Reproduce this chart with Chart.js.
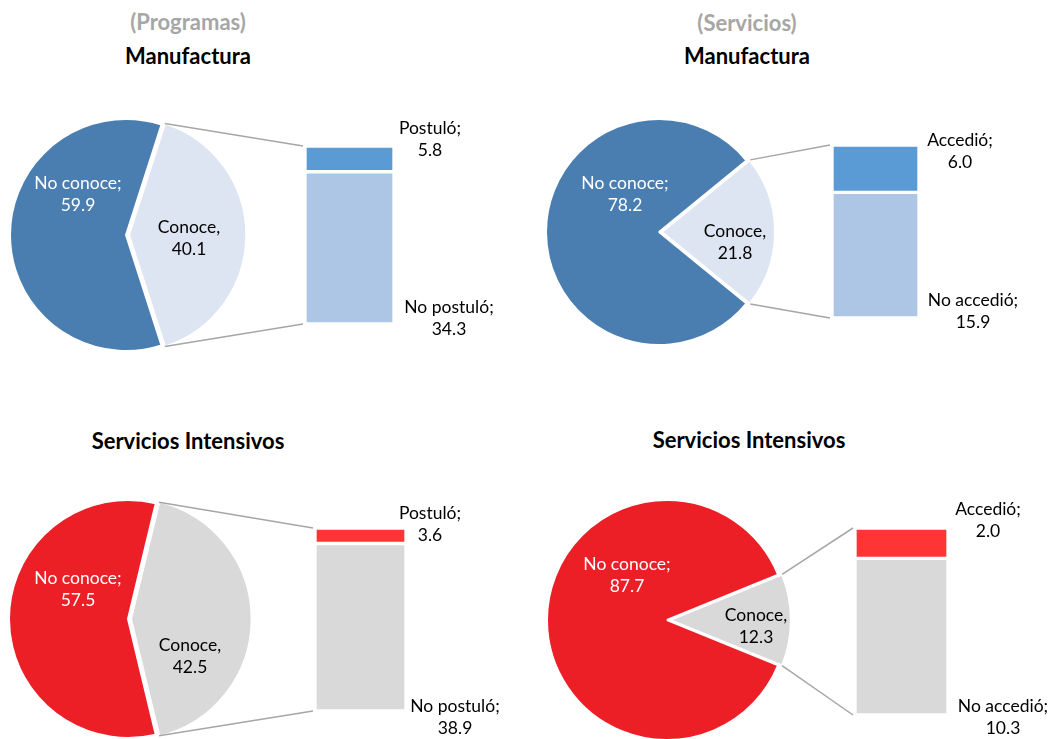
<!DOCTYPE html>
<html>
<head>
<meta charset="utf-8">
<script src="https://cdn.jsdelivr.net/npm/chart.js@4.4.1/dist/chart.umd.min.js"></script>
<style>
  body { margin: 0; background: #fff; width: 1052px; height: 739px; overflow: hidden; position: relative; font-family: Lato, sans-serif; }
  canvas { position: absolute; left: 0; top: 0; }
  .title { position: absolute; width: 320px; margin-left: -160px; text-align: center; font-weight: bold; font-size: 22px; line-height: 26px; color: #000; }
  .title.sub { color: #a6a6a6; }
</style>
</head>
<body>
<div class="title sub" style="left:188px;top:9px">(Programas)</div>
<div class="title" style="left:188px;top:43px">Manufactura</div>
<div class="title sub" style="left:747px;top:10px">(Servicios)</div>
<div class="title" style="left:747px;top:43px">Manufactura</div>
<div class="title" style="left:188px;top:428px">Servicios Intensivos</div>
<div class="title" style="left:749px;top:427px">Servicios Intensivos</div>

<script>
// data
const pieCategories = ['No conoce', 'Conoce'];
const pieSeparators = [';', ','];
const progCategories = ['Postuló', 'No postuló'];
const servCategories = ['Accedió', 'No accedió'];

const progManuf = [59.9, 40.1];
const servManuf = [78.2, 21.8];
const progServInt = [57.5, 42.5];
const servServInt = [87.7, 12.3];

const progManufSplit = [5.8, 34.3];
const servManufSplit = [6.0, 15.9];
const progServIntSplit = [3.6, 38.9];
const servServIntSplit = [2.0, 10.3];

const W = 1052, H = 739;
const FONT = '17.5px Lato, sans-serif';

const blueSet = { pie: ['#4a7eb0', '#dde5f2'], bar: ['#5b9bd5', '#aec6e5'] };
const redSet = { pie: ['#ec1f26', '#d9d9d9'], bar: ['#ff3535', '#d9d9d9'] };

// layout of each panel (pie centre/radius, bar box, label offsets)
const panels = [
  { values: progManuf, split: progManufSplit, cats: progCategories, colors: blueSet,
    cx: 126, cy: 235, r: 116, bar: [307, 148, 392, 322],
    pieLbl: [[-48, -41], [63, 3]], barLbl: [[38, -9], [57, -4]] },
  { values: servManuf, split: servManufSplit, cats: servCategories, colors: blueSet,
    cx: 659, cy: 232, r: 113, bar: [834, 147, 917, 316],
    pieLbl: [[-34, -38], [76, 10]], barLbl: [[43, 4], [56, -5]] },
  { values: progServInt, split: progServIntSplit, cats: progCategories, colors: redSet,
    cx: 128, cy: 619, r: 119, bar: [317, 530, 404, 709],
    pieLbl: [[-50, -30], [62, 37]], barLbl: [[26, -6], [51, 8]] },
  { values: servServInt, split: servServIntSplit, cats: servCategories, colors: redSet,
    cx: 667, cy: 620, r: 120, bar: [857, 530, 946, 713],
    pieLbl: [[-40, -45], [89, 6]], barLbl: [[42, -10], [57, 4]] }
];

function twoLines(ctx, x, y, a, b) {
  ctx.fillText(a, x, y - 11);
  ctx.fillText(b, x, y + 11);
}

function newCanvas() {
  const c = document.createElement('canvas');
  c.width = W; c.height = H;
  document.body.appendChild(c);
  return c;
}

panels.forEach(p => {
  // pie: label plugin
  const pieText = {
    id: 'pieText',
    afterDatasetsDraw(chart) {
      const { ctx } = chart;
      const arcs = chart.getDatasetMeta(0).data;
      ctx.save();
      ctx.font = FONT;
      ctx.textAlign = 'center';
      ctx.textBaseline = 'middle';
      arcs.forEach((arc, i) => {
        ctx.fillStyle = i === 0 ? '#ffffff' : '#000000';
        twoLines(ctx, arc.x + p.pieLbl[i][0], arc.y + p.pieLbl[i][1],
          pieCategories[i] + pieSeparators[i], p.values[i].toFixed(1));
      });
      ctx.restore();
    }
  };

  const pie = new Chart(newCanvas(), {
    type: 'pie',
    data: {
      labels: pieCategories,
      datasets: [{
        data: p.values,
        backgroundColor: p.colors.pie,
        borderColor: '#ffffff',
        borderWidth: 2,
        offset: [0, 12],
        radius: p.r,
        rotation: 90 + p.values[1] * 1.8,
        clip: false
      }]
    },
    options: {
      responsive: false,
      animation: false,
      layout: { padding: { left: p.cx - 40, right: W - p.cx - 40, top: p.cy - 40, bottom: H - p.cy - 40 } },
      plugins: { legend: { display: false }, tooltip: { enabled: false } }
    },
    plugins: [pieText]
  });

  // bar: connector lines + labels
  const barText = {
    id: 'barText',
    afterDraw(chart) {
      const { ctx, chartArea: { left, right, top, bottom } } = chart;
      const arc = pie.getDatasetMeta(0).data[1];
      const half = (arc.startAngle + arc.endAngle) / 2;
      const off = (arc.options.offset || 0) / 4;
      const ox = arc.x + Math.cos(half) * off;
      const oy = arc.y + Math.sin(half) * off;
      const rr = arc.outerRadius + 1;

      ctx.save();
      ctx.strokeStyle = '#a6a6a6';
      ctx.lineWidth = 1.5;
      ctx.beginPath();
      ctx.moveTo(ox + Math.cos(arc.startAngle) * rr, oy + Math.sin(arc.startAngle) * rr);
      ctx.lineTo(left - 2, top);
      ctx.moveTo(ox + Math.cos(arc.endAngle) * rr, oy + Math.sin(arc.endAngle) * rr);
      ctx.lineTo(left - 2, bottom);
      ctx.stroke();

      ctx.font = FONT;
      ctx.fillStyle = '#000000';
      ctx.textAlign = 'center';
      ctx.textBaseline = 'middle';
      const vr = right - 2;
      twoLines(ctx, vr + p.barLbl[0][0], top + 2 + p.barLbl[0][1], p.cats[0] + ';', p.split[0].toFixed(1));
      twoLines(ctx, vr + p.barLbl[1][0], bottom - 2 + p.barLbl[1][1], p.cats[1] + ';', p.split[1].toFixed(1));
      ctx.restore();
    }
  };

  const [bx0, by0, bx1, by1] = p.bar;
  new Chart(newCanvas(), {
    type: 'bar',
    data: {
      labels: [''],
      datasets: [
        { label: p.cats[1], data: [p.split[1]], backgroundColor: p.colors.bar[1] },
        { label: p.cats[0], data: [p.split[0]], backgroundColor: p.colors.bar[0] }
      ]
    },
    options: {
      responsive: false,
      animation: false,
      layout: { padding: { left: bx0 - 2, right: W - bx1 - 2, top: by0 - 2, bottom: H - by1 - 2 } },
      datasets: { bar: { barPercentage: 1, categoryPercentage: 1, borderWidth: 2, borderColor: '#ffffff', borderSkipped: false } },
      scales: {
        x: { display: false, stacked: true },
        y: { display: false, stacked: true, min: 0, max: p.split[0] + p.split[1] }
      },
      plugins: { legend: { display: false }, tooltip: { enabled: false } }
    },
    plugins: [barText]
  });
});
</script>
</body>
</html>
